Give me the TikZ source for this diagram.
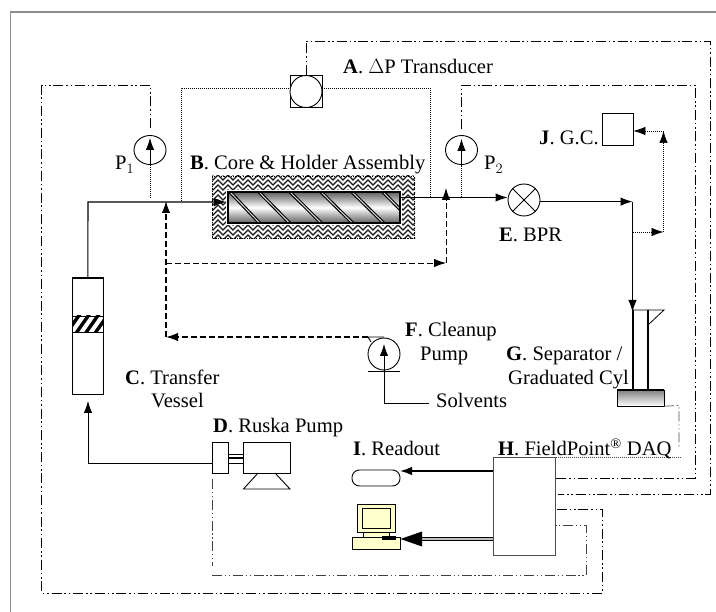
\documentclass[tikz,border=0pt]{standalone}
\usepackage{fontspec}
\setmainfont{Liberation Serif}
\usetikzlibrary{arrows.meta,calc,shapes.geometric}
\definecolor{frameg}{gray}{0.55}
\definecolor{lemon}{RGB}{255,255,204}
\tikzset{
  lbl/.style={anchor=base west,inner sep=0pt,font=\fontsize{20.6}{23}\selectfont},
  sym/.style={draw=black,line width=0.9pt,inner sep=0pt,fill=white},
  pipe/.style={line width=1.1pt,draw=black},
  tip/.style={-{Latex[length=12pt,width=8.5pt]}},
  sigline/.style={line width=0.9pt,dash pattern=on 10pt off 2.8pt on 1.6pt off 2.8pt on 1.6pt off 2.8pt},
  sigthin/.style={line width=0.7pt,draw=black!75,dash pattern=on 10pt off 2.8pt on 1.2pt off 2.8pt on 1.2pt off 2.8pt},
  dotl/.style={line width=0.7pt,dash pattern=on 1pt off 1pt},
  dashl/.style={line width=0.9pt,dash pattern=on 6pt off 3pt},
  dashk/.style={line width=1.3pt,dash pattern=on 6pt off 3pt},
}
\begin{document}
\begin{tikzpicture}[x=1pt,y=-1pt]
\useasboundingbox (0,0) rectangle (716,612);
\fill[white] (0,0) rectangle (716,612);
% page frame (left and top only)
\draw[frameg,line width=1.6pt] (10.5,612) -- (10.5,12) -- (716,12);

% ---------- nodes
\node[sym,minimum width=32pt,minimum height=32pt] (abox) at (306,91.5) {};
\node[sym,circle,minimum size=32pt] (acirc) at (306,91.5) {};
\node[sym,ellipse,minimum width=32pt,minimum height=29pt] (p1) at (150,150) {};
\node[sym,ellipse,minimum width=32pt,minimum height=29pt] (p2) at (461.5,150) {};
\node[sym,circle,minimum size=32pt] (bpr) at (524,200) {};
\node[sym,minimum width=31pt,minimum height=32pt] (gc) at (617.5,129) {};
\node[sym,line width=1pt,minimum width=30.5pt,minimum height=117pt] (vessel) at (87.8,336.5) {};
\node[sym,minimum width=16pt,minimum height=31pt] (rusk) at (220,457.5) {};
\node[sym,minimum width=46.5pt,minimum height=31pt] (motor) at (267,457.5) {};
\node[draw=black!70,line width=1pt,fill=white,inner sep=0pt,minimum width=62pt,minimum height=98pt] (daq) at (524,507) {};
\node[sym,rounded corners=7.5pt,minimum width=48pt,minimum height=16pt] (readout) at (376,478) {};
\node[inner sep=0pt,minimum width=48pt,minimum height=12pt] (pc) at (376,543) {};
\node[sym,circle,minimum size=32pt] (fpump) at (384,354) {};
\node[inner sep=0pt,minimum width=47pt,minimum height=16pt] (sep) at (640.5,398) {};
\node[inner sep=0pt,minimum width=15pt,minimum height=80pt] (cyl) at (640.5,350) {};

% ---------- core holder
\begin{scope}
\clip (212,176) rectangle (415,239);
\fill[white] (212,176) rectangle (415,239);
\foreach \r in {0,...,14}{
  \pgfmathsetmacro{\yy}{170+\r*5}
  \draw[black!90,line width=1.3pt] (208,\yy)
    \foreach \k in {0,...,20}{ -- ++(5,5) -- ++(5,-5) };
}
\end{scope}
\draw[black,line width=1.6pt,dash pattern=on 1.2pt off 1.2pt] (212.5,176.5) rectangle (414.5,238.5);
\fill[white] (226,190) rectangle (402,225);
\shade[top color=black!62,bottom color=black!62,middle color=white] (228,192) rectangle (400,223);
\begin{scope}
\clip (228,192) rectangle (400,223);
\foreach \xa/\xb in {230/260,259/290,290/321.7,321/353,352/384,383/414}{
  \draw[black,line width=3.3pt] (\xa,192) -- (\xb,223.5);
  \draw[white!85!black,line width=1pt] (\xa,192) -- (\xb,223.5);
}
\end{scope}
\node[draw=black,line width=1.3pt,inner sep=0pt,minimum width=172pt,minimum height=31pt] (core) at (314,207.5) {};

% ---------- vessel piston
\begin{scope}
\clip (73,316) rectangle (103,332);
\foreach \i in {0,...,4}{
  \draw[black,line width=3.4pt] (66+\i*9.5,334) -- (80+\i*9.5,314);
}
\end{scope}
\draw[black,line width=0.9pt] (72.7,316) -- (103,316) (72.7,332) -- (103,332);
\draw[black,line width=1.5pt] (72.7,278) -- (103,278);

% ---------- symbols detail
\draw[black,line width=0.9pt] (bpr.45) -- (bpr.225) (bpr.135) -- (bpr.315);

% pump D details
\draw[black,line width=0.9pt] (rusk.east |- 0,454) -- (motor.west |- 0,454)
  (rusk.east |- 0,463.5) -- (motor.west |- 0,463.5);
\draw[black,line width=2pt] (rusk.east |- 0,458) -- (motor.west |- 0,458);
\draw[black,line width=0.9pt] (258,473) -- (243.5,489) -- (290,489) -- (275,473);

% computer
\draw[black,line width=0.8pt,fill=lemon] (357,504) rectangle (395,532);
\draw[black,line width=0.8pt,fill=lemon] (362,508) rectangle (390,528);
\draw[black,line width=0.8pt,fill=lemon] (363,532) rectangle (389,537);
\draw[black,line width=0.8pt,fill=lemon] (352,537) rectangle (400,549);
\fill[black] (382,536) rectangle (396,540);

% cylinder and separator
\shade[top color=black!50,bottom color=white] (617,390) rectangle (664,406);
\draw[black,line width=0.8pt] (617,390) rectangle (664,406);
\draw[black,line width=2pt] (617,390) -- (664,390);
\draw[black,line width=1.1pt] (633,310) -- (633,390) (648,310) -- (648,390);
\draw[black,line width=0.8pt] (633,310) -- (664,310) -- (648,325);

% ---------- signal lines
\coordinate (a1) at (306,41);
\coordinate (a2) at (710,41);
\coordinate (a3) at (710,494);
\draw[sigline] (acirc.north) -- (a1) -- (a2) -- (a3) -- (558,494);
\coordinate (b1) at (461.5,85);
\coordinate (b2) at (695,85);
\coordinate (b3) at (695,478);
\draw[sigline] (461.5,129) -- (b1) -- (b2) -- (b3) -- (daq.east |- b3);
\coordinate (c1) at (150,85);
\coordinate (c2) at (41.5,85);
\coordinate (c3) at (41.5,593);
\coordinate (c4) at (602,593);
\coordinate (c5) at (602,509);
\draw[sigline] (150,128) -- (c1) -- (c2) -- (c3) -- (c4) -- (c5) -- (557,509);
\coordinate (d1) at (212,566);
\draw[sigthin,line width=0.9pt] (212,479) -- (d1);
\coordinate (d2) at (212,575);
\coordinate (d3) at (586,575);
\coordinate (d4) at (586,525);
\draw[sigthin] (d2) -- (d3) -- (d4) -- (daq.east |- d4);
\coordinate (s1) at (679,405.5);
\coordinate (s2) at (679,449);
\draw[sigthin,draw=black!70] (sep.south east) -- (s1) -- (s2);
\coordinate (s3) at (680,457.5);
\draw[dotl,draw=black!70] (daq.north east) -- (s3);

% ---------- dotted pressure taps
\coordinate (t1) at (181,201);
\coordinate (t2) at (181,88);
\coordinate (t3) at (430,88);
\coordinate (t4) at (430,197);
\draw[dotl] (t1) -- (t2) -- (abox.west |- t2);
\draw[dotl] (abox.east |- t3) -- (t3) -- (t4);
\coordinate (p1tap) at (150,198);
\coordinate (p2tap) at (461.5,197);
\draw[dotl] (p1tap) -- (p1.south);
\draw[dotl] (p2tap) -- (p2.south);

% ---------- pressure gauge arrows
\draw[line width=0.8pt,-{Latex[length=12pt,width=8.5pt]}] (p1.south) -- (150,138);
\draw[line width=0.8pt,-{Latex[length=12pt,width=8.5pt]}] (p2.south) -- (461.5,139);

% ---------- main flow
\coordinate (m1) at (88,202);
\draw[pipe,tip] (vessel.north) -- (m1) -- (226,202);
\coordinate (o1) at (400,197.5);
\draw[pipe,tip] (o1) -- (bpr.west |- o1);
\coordinate (e1) at (632.5,201.6);
\draw[pipe,tip] (bpr.east |- e1) -- (e1);
\draw[pipe,tip] (e1) -- (632.5,312);

% dashed clean-up lines
\coordinate (k1) at (166,263);
\coordinate (k2) at (446,263);
\draw[dashl,tip] (k1) -- (k2);
\draw[black,line width=0.9pt,dash pattern=on 6pt off 3pt,tip] (k2) -- (446,188);
\coordinate (k3) at (166,337);
\draw[dashk,tip] (368,337) -- (k3);
\draw[dashk,tip] (k3) -- (166,201);

% cleanup pump
\draw[black,line width=0.9pt] (368,337) -- (384,337) (368,337) -- (371,342);
\draw[black,line width=1pt] (368,372) -- (400,372);
\coordinate (f1) at (384,403);
\coordinate (f2) at (429,403);
\draw[line width=0.9pt] (f2) -- (f1) -- (384,355);
\draw[line width=0.9pt,-{Latex[length=12pt,width=8.5pt]}] (384,372) -- (384,344);

% Ruska to vessel
\coordinate (r1) at (88,463);
\draw[line width=0.9pt,tip] (rusk.west |- r1) -- (r1) -- (88,401);

% DAQ to readout and PC
\coordinate (ro) at (400,471);
\draw[line width=1.6pt,tip] (daq.west |- ro) -- (ro);
\coordinate (co) at (418,539);
\draw[black,line width=3.6pt] (daq.west |- co) -- (co);
\draw[black!25,line width=1.2pt] (daq.west |- co) -- (co);
\fill[black] (400.5,539) -- (422,531.5) -- (422,546.5) -- cycle;

% dotted to GC
\coordinate (g1) at (633,232);
\coordinate (g2) at (663.5,232);
\coordinate (g3) at (663.5,131);
\draw[dotl,tip] (g1) -- (g2);
\draw[dotl,tip] (g2) -- (g3);
\draw[dotl,tip] (g3) -- (gc.east |- g3);

% ---------- labels
\node[lbl] (la) at (343,74) {\textbf{A}. $\Delta$P Transducer};
\node[lbl] (lb) at (190,170) {\textbf{B}. Core \& Holder Assembly};
\node[lbl] (lc) at (125,385) {\textbf{C}. Transfer};
\node[lbl] (lc2) at (151,408) {Vessel};
\node[lbl] (ld) at (213,433) {\textbf{D}. Ruska Pump};
\node[lbl] (le) at (499,242) {\textbf{E}. BPR};
\node[lbl] (lf) at (405,337) {\textbf{F}. Cleanup};
\node[lbl] (lf2) at (420,361) {Pump};
\node[lbl] (lg) at (506,361) {\textbf{G}. Separator /};
\node[lbl] (lg2) at (508,385) {Graduated Cyl};
\node[lbl] (lh) at (498,456) {\textbf{H}. FieldPoint\textsuperscript{®} DAQ};
\node[lbl] (li) at (353,456) {\textbf{I}. Readout};
\node[lbl] (lj) at (539,145) {\textbf{J}. G.C.};
\node[lbl] (ls) at (436,408) {Solvents};
\node[lbl] (lp1) at (115,170) {P$_{1}$};
\node[lbl] (lp2) at (484,170) {P$_{2}$};
\end{tikzpicture}
\end{document}
